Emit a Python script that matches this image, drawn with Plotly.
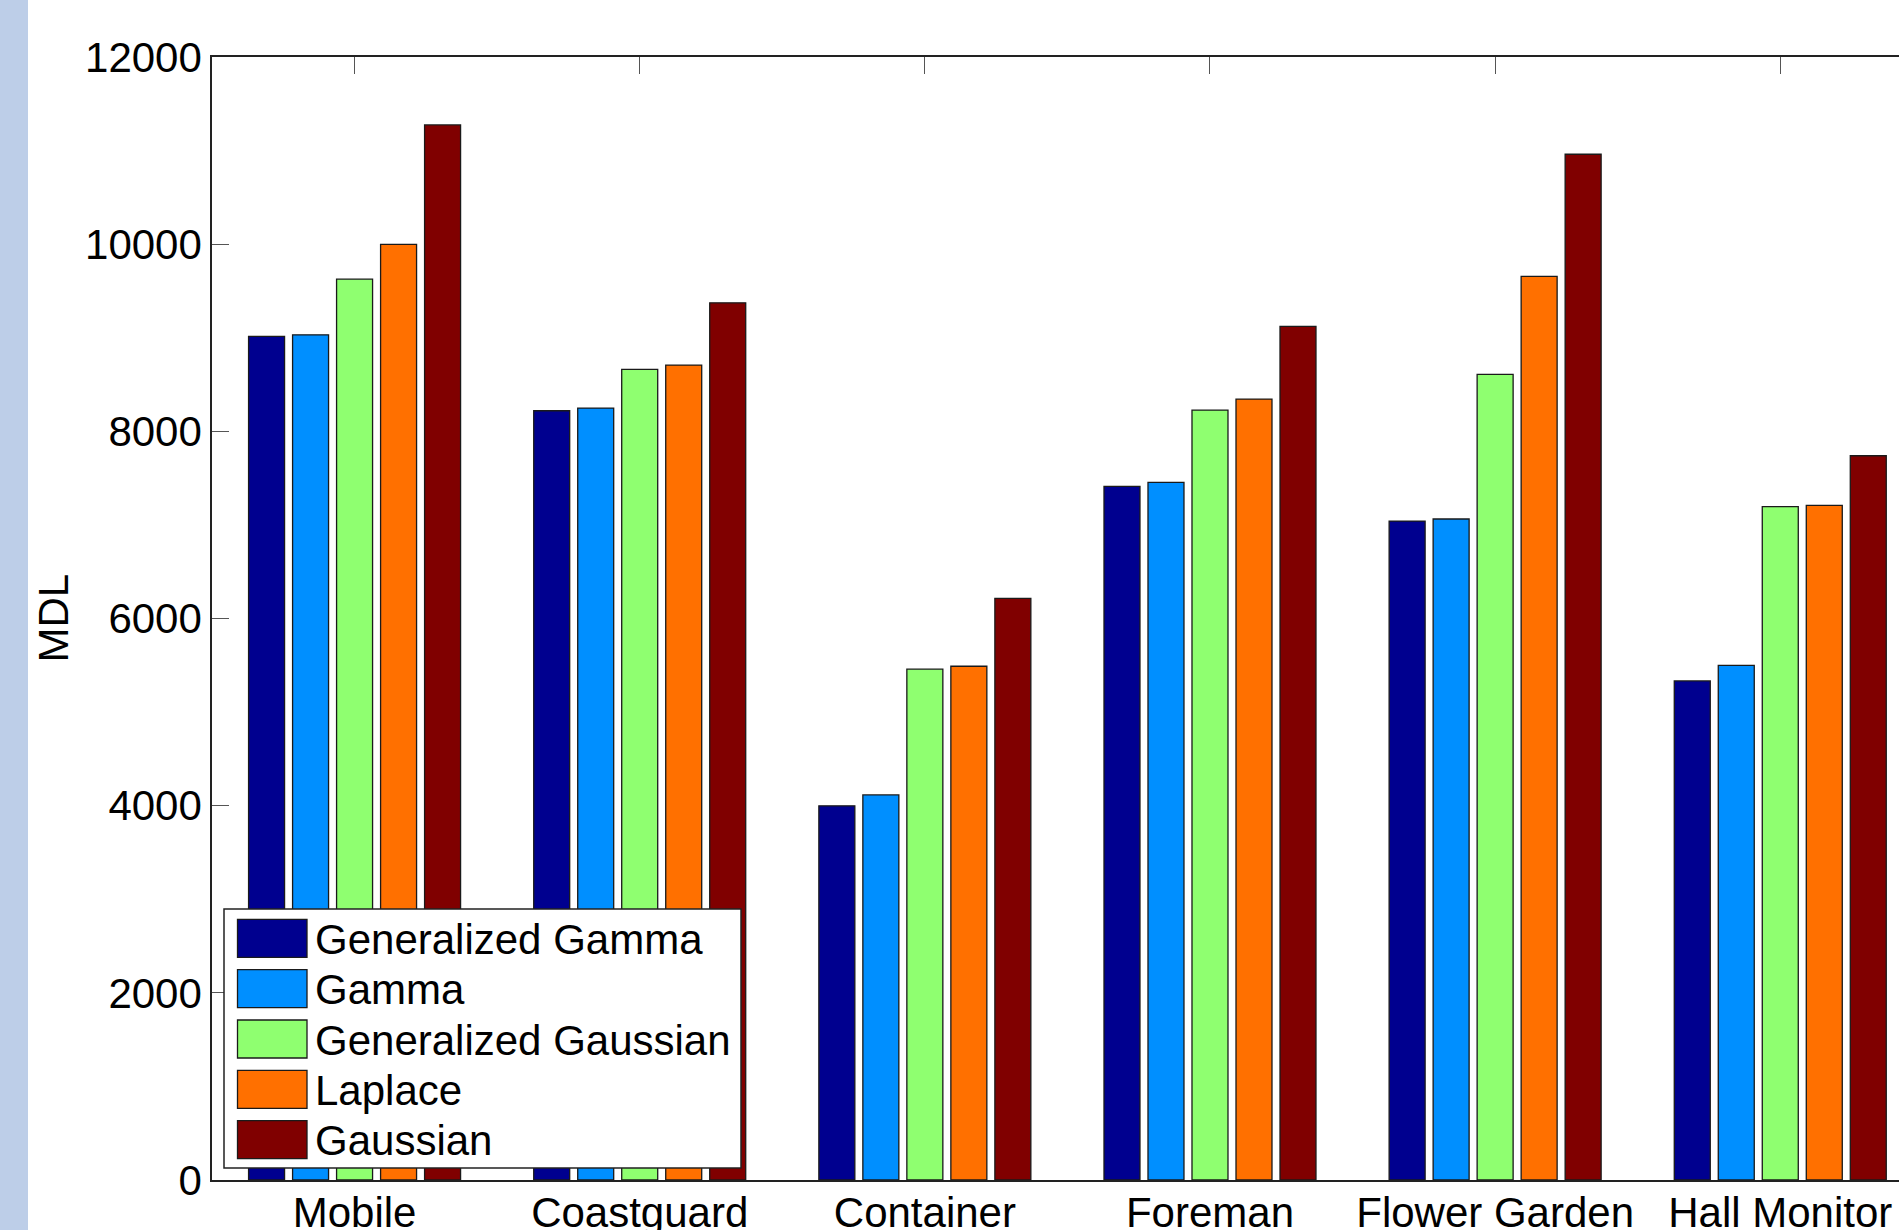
import plotly.graph_objects as go

# Video sequences (x categories)
sequences = ["Mobile", "Coastguard", "Container", "Foreman", "Flower Garden", "Hall Monitor"]

# MDL values per distribution model
generalized_gamma = [9014, 8220, 3998, 7412, 7041, 5333]
gamma = [9031, 8248, 4115, 7455, 7063, 5500]
generalized_gaussian = [9626, 8662, 5458, 8227, 8608, 7196]
laplace = [9997, 8708, 5490, 8345, 9655, 7209]
gaussian = [11274, 9373, 6216, 9121, 10961, 7739]

series_names = ["Generalized Gamma", "Gamma", "Generalized Gaussian", "Laplace", "Gaussian"]
series_values = [generalized_gamma, gamma, generalized_gaussian, laplace, gaussian]
series_colors = ["#00008F", "#008FFF", "#8FFF70", "#FF7000", "#800000"]

y_ticks = [0, 2000, 4000, 6000, 8000, 10000, 12000]
y_ticktext = [str(v) for v in y_ticks]

# Figure geometry (pixels)
W, H = 1899, 1230
L, R, T, B = 212, 0, 57, 50
PW, PH = W - L - R, H - T - B
FONT = "Liberation Sans, Arial, Helvetica, sans-serif"
FS = 42


def px_x(px):
    return (px - L) / PW


def px_y(py):
    return (H - B - py) / PH


fig = go.Figure()
for name, vals, col in zip(series_names, series_values, series_colors):
    fig.add_trace(go.Bar(
        x=sequences, y=vals, name=name,
        marker=dict(color=col, line=dict(color="#1a1a1a", width=1.3)),
        showlegend=False,
    ))

# Legend box drawn as shapes + text
shapes = [
    # light-blue strip on the far left of the page
    dict(type="rect", xref="paper", yref="paper",
         x0=px_x(0), x1=px_x(28), y0=px_y(H), y1=px_y(0),
         fillcolor="#BDCEE8", line=dict(width=0), layer="below"),
    # legend frame
    dict(type="rect", xref="paper", yref="paper",
         x0=px_x(224), x1=px_x(741), y0=px_y(1168), y1=px_y(909),
         fillcolor="white", line=dict(color="#222222", width=1.5), layer="above"),
]
annotations = []
row_top0, row_step, sw_h = 919.3, 50.35, 38
for i, (name, col) in enumerate(zip(series_names, series_colors)):
    top = row_top0 + i * row_step
    shapes.append(dict(type="rect", xref="paper", yref="paper",
                       x0=px_x(237.5), x1=px_x(307), y0=px_y(top + sw_h), y1=px_y(top),
                       fillcolor=col, line=dict(color="#1a1a1a", width=1.3), layer="above"))
    annotations.append(dict(xref="paper", yref="paper", x=px_x(313), y=px_y(top + sw_h / 2 + 1),
                            text=name, showarrow=False, xanchor="left", yanchor="middle",
                            font=dict(family=FONT, size=FS, color="black")))

# y-axis title placed as text
annotations.append(dict(xref="paper", yref="paper", x=px_x(53), y=0.5,
                        text="MDL", showarrow=False, textangle=-90,
                        xanchor="center", yanchor="middle",
                        font=dict(family=FONT, size=FS, color="black")))

fig.update_layout(
    width=W, height=H,
    margin=dict(l=L, r=R, t=T, b=B, pad=0, autoexpand=False),
    paper_bgcolor="white", plot_bgcolor="white",
    barmode="group", bargap=0.2284, bargroupgap=0.182,
    font=dict(family=FONT, size=FS, color="black"),
    shapes=shapes, annotations=annotations,
    showlegend=False,
)
fig.update_xaxes(
    range=[-0.5, -0.5 + PW / 285.14], automargin=False,
    showline=True, linecolor="#222222", linewidth=1.5, mirror="ticks",
    ticks="inside", ticklen=17, tickwidth=1, tickcolor="#555555",
    showgrid=False, zeroline=False, layer="below traces",
    ticklabelstandoff=-5,
    tickfont=dict(family=FONT, size=FS, color="black"),
)
fig.update_yaxes(
    range=[0, 12000], tickmode="array", tickvals=y_ticks, ticktext=y_ticktext,
    automargin=False,
    showline=True, linecolor="#222222", linewidth=1.5, mirror=False,
    ticks="inside", ticklen=17, tickwidth=1, tickcolor="#555555",
    showgrid=False, zeroline=False, layer="below traces",
    tickfont=dict(family=FONT, size=FS, color="black"),
)

fig.write_html("out.html", config={"displayModeBar": False})
